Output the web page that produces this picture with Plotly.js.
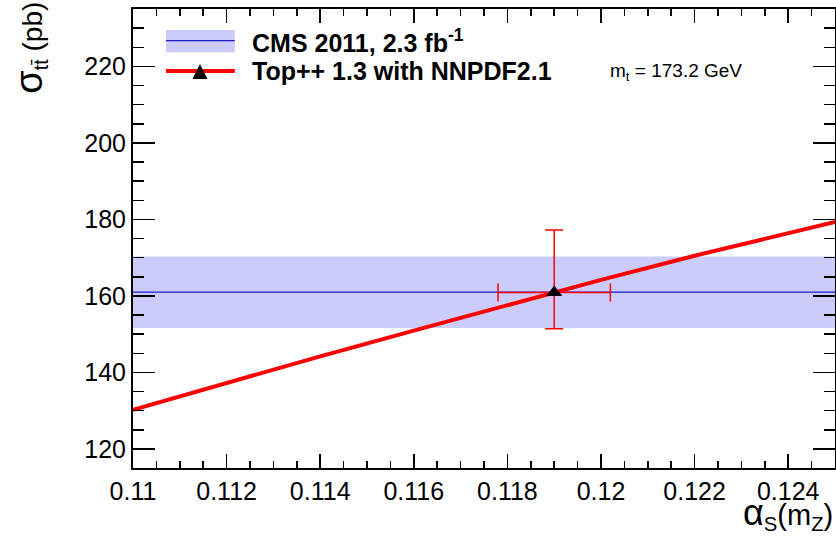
<!DOCTYPE html>
<html>
<head>
<meta charset="utf-8">
<script src="https://cdn.plot.ly/plotly-3.0.1.min.js"></script>
<style>html,body{margin:0;padding:0;background:#fff;}</style>
</head>
<body>
<div id="chart" style="width:836px;height:536px;"></div>
<script>
// Top++ 1.3 with NNPDF2.1 prediction vs alpha_S(mZ)
const alphaS    = [0.110, 0.112, 0.114, 0.116, 0.118, 0.119, 0.120, 0.122, 0.124, 0.125];
const sigmaTop  = [130.2, 137.3, 144.2, 150.9, 157.6, 160.9, 164.2, 170.5, 176.5, 179.3];

// CMS 2011 measurement band (2.3 fb^-1)
const bandAlpha   = [0.110, 0.125];
const bandLow     = [151.6, 151.6];
const bandHigh    = [170.3, 170.3];
const bandCentral = [161.0, 161.0];

// Extracted alpha_S point
const pointAlpha     = [0.119];
const pointSigma     = [160.9];
const pointAlphaErr  = [0.0012];
const pointSigmaUp   = [16.3];
const pointSigmaDown = [9.5];

const bandFill = '#ccccfa';
const bandLine = '#1a1acc';

const traces = [
  {x: bandAlpha, y: bandLow, mode: 'lines', line: {width: 0, color: bandFill}, hoverinfo: 'skip'},
  {x: bandAlpha, y: bandHigh, mode: 'lines', fill: 'tonexty', fillcolor: bandFill, line: {width: 0, color: bandFill}, hoverinfo: 'skip'},
  {x: bandAlpha, y: bandCentral, mode: 'lines', line: {width: 1.3, color: bandLine}},
  {x: alphaS, y: sigmaTop, mode: 'lines', line: {width: 4, color: '#ff0000'}},
  {x: pointAlpha, y: pointSigma, mode: 'markers',
   marker: {symbol: 'triangle-up', size: 14, color: 'black'},
   error_x: {type: 'data', array: pointAlphaErr, color: '#ff0000', thickness: 1.5, width: 9},
   error_y: {type: 'data', symmetric: false, array: pointSigmaUp, arrayminus: pointSigmaDown, color: '#ff0000', thickness: 1.5, width: 9}}
];

const axisCommon = {
  ticks: 'inside', tickwidth: 1.5, tickcolor: 'black',
  showline: true, linewidth: 2, linecolor: 'black', mirror: 'allticks',
  showgrid: false, zeroline: false,
  tickfont: {size: 25, color: 'black', family: 'Liberation Sans, Arial, sans-serif'}
};

const layout = {
  width: 836, height: 536,
  margin: {l: 133, r: 1, t: 9, b: 68},
  paper_bgcolor: 'white', plot_bgcolor: 'white',
  showlegend: false,
  font: {family: 'Liberation Sans, Arial, sans-serif', color: 'black'},
  xaxis: Object.assign({}, axisCommon, {
    range: [0.11, 0.125], tick0: 0.11, dtick: 0.002, ticklen: 14,
    minor: {dtick: 0.0005, ticklen: 7, tickwidth: 1.5, ticks: 'inside', tickcolor: 'black', showgrid: false}
  }),
  yaxis: Object.assign({}, axisCommon, {
    range: [115, 235], tick0: 0, dtick: 20, ticklen: 22,
    minor: {dtick: 5, ticklen: 11, tickwidth: 1.5, ticks: 'inside', tickcolor: 'black', showgrid: false}
  }),
  shapes: [
    {type: 'rect', xref: 'paper', yref: 'paper', x0: 0.047, x1: 0.145, y0: 0.906, y1: 0.954, fillcolor: bandFill, line: {width: 0}},
    {type: 'line', xref: 'paper', yref: 'paper', x0: 0.047, x1: 0.145, y0: 0.931, y1: 0.931, line: {width: 1.3, color: bandLine}},
    {type: 'line', xref: 'paper', yref: 'paper', x0: 0.047, x1: 0.145, y0: 0.865, y1: 0.865, line: {width: 4, color: '#ff0000'}},
    {type: 'path', xref: 'paper', yref: 'paper', xsizemode: 'pixel', ysizemode: 'pixel',
     xanchor: 0.0954, yanchor: 0.865, path: 'M -7.5 -8 L 7.5 -8 L 0 7 Z', fillcolor: 'black', line: {width: 0}}
  ],
  annotations: [
    {xref: 'paper', yref: 'paper', x: 0.1667, y: 0.931, xanchor: 'left', yanchor: 'middle', showarrow: false,
     text: '<b>CMS 2011, 2.3 fb<sup>-1</sup></b>', font: {size: 25}},
    {xref: 'paper', yref: 'paper', x: 0.1667, y: 0.865, xanchor: 'left', yanchor: 'middle', showarrow: false,
     text: '<b>Top++ 1.3 with NNPDF2.1</b>', font: {size: 25}},
    {xref: 'paper', yref: 'paper', x: 0.677, y: 0.862, xanchor: 'left', yanchor: 'middle', showarrow: false,
     text: 'm<sub>t</sub> = 173.2 GeV', font: {size: 19}},
    {xref: 'paper', yref: 'paper', x: -0.147, y: 1.02, xanchor: 'center', yanchor: 'top', showarrow: false, textangle: -90,
     text: '<span style="font-size:38px">σ</span><sub>tt\u0304</sub> (pb)', font: {size: 28}},
    {xref: 'paper', yref: 'paper', x: 1.0, y: -0.15, xanchor: 'right', yanchor: 'bottom', showarrow: false,
     text: '<span style="font-size:36px">α</span><sub>S</sub>(m<sub>Z</sub>)', font: {size: 29}}
  ]
};

Plotly.newPlot('chart', traces, layout, {displayModeBar: false, staticPlot: true});
</script>
</body>
</html>
